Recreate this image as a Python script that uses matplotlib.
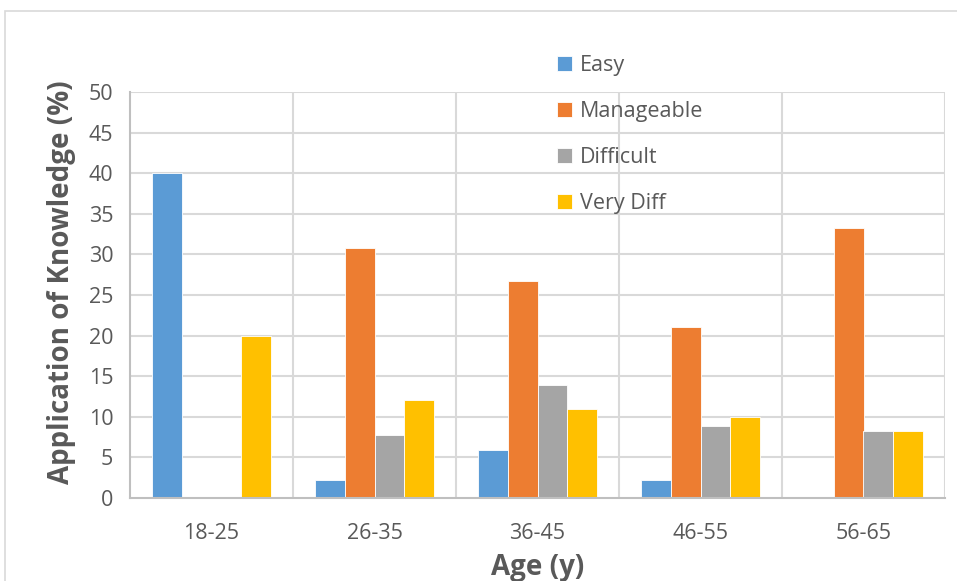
import numpy as np
import matplotlib.pyplot as plt
from matplotlib.patches import Rectangle

# data
age_groups = ["18-25", "26-35", "36-45", "46-55", "56-65"]
easy = [40.0, 2.2, 5.9, 2.2, 0.0]
manageable = [0.0, 30.8, 26.7, 21.1, 33.3]
difficult = [0.0, 7.8, 13.9, 8.9, 8.3]
very_diff = [20.0, 12.1, 10.9, 10.0, 8.3]

series = [("Easy", easy, "#5b9bd5"),
          ("Manageable", manageable, "#ed7d31"),
          ("Difficult", difficult, "#a5a5a5"),
          ("Very Diff", very_diff, "#ffc000")]

GREY_TXT = "#595959"
GREY_GRID = "#d9d9d9"
GREY_AXIS = "#bfbfbf"

plt.rcParams['font.family'] = ['Open Sans', 'DejaVu Sans']

W, H = 957, 581
fig = plt.figure(figsize=(W / 100, H / 100), dpi=100)
fig.patch.set_facecolor("white")

# chart area outline
fig.patches.append(Rectangle((5 / W, -0.1), 1.2, 1.1 - 11 / H,
                             transform=fig.transFigure, fill=False,
                             edgecolor=GREY_GRID, lw=1.2))

ax = fig.add_axes([130 / W, 1 - 498 / H, (945 - 130) / W, (498 - 92) / H])

x = np.arange(len(age_groups))
bw = 0.184
for i, (name, vals, col) in enumerate(series):
    ax.bar(x + (i - 1.5) * bw, vals, width=bw, color=col,
           edgecolor="white", linewidth=0.6, label=name, zorder=3)

ax.set_xlim(-0.5, len(age_groups) - 0.5)
ax.set_ylim(0, 50)
ax.set_yticks(np.arange(0, 51, 5))
ax.set_xticks(x)
ax.set_xticklabels(age_groups)

# horizontal grid + vertical category boundaries
for y in np.arange(5, 51, 5):
    ax.axhline(y, color=GREY_GRID, lw=1.5, zorder=1)
for b in np.arange(0.5, len(age_groups) - 0.4, 1):
    ax.axvline(b, color=GREY_GRID, lw=1.5, zorder=1)

for s in ["top", "right"]:
    ax.spines[s].set_visible(False)
for s in ["left", "bottom"]:
    ax.spines[s].set_color(GREY_AXIS)
    ax.spines[s].set_linewidth(1.5)
ax.spines["bottom"].set_zorder(4)

ax.tick_params(length=0, labelsize=15.5, colors=GREY_TXT)
ax.tick_params(axis="x", pad=18)
ax.tick_params(axis="y", pad=12)

ax.set_xlabel("Age (y)", fontsize=20, fontweight="bold", color=GREY_TXT)
ax.set_ylabel("Application of Knowledge (%)", fontsize=20, fontweight="bold",
              color=GREY_TXT)
ax.xaxis.set_label_coords(0.5, -0.135)
ax.yaxis.set_label_coords(-0.066, 0.532)

leg = ax.legend(loc="upper left", bbox_to_anchor=(538 / W, 1 - 36 / H),
                bbox_transform=fig.transFigure, frameon=False,
                fontsize=15.5, labelcolor=GREY_TXT, handlelength=0.7,
                handleheight=0.7, handletextpad=0.35, labelspacing=1.16)

fig.savefig("out.png", dpi=100)
